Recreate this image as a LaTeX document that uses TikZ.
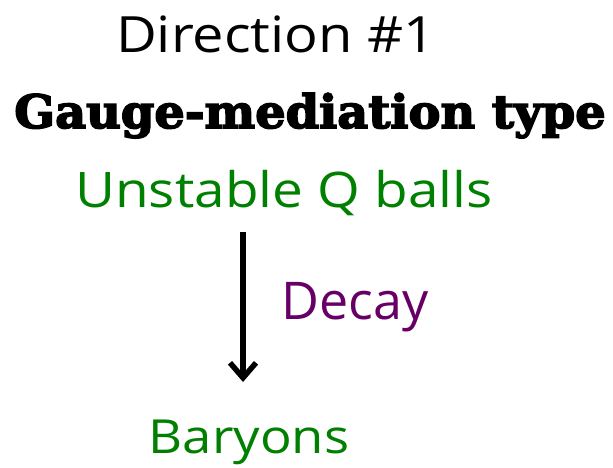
\documentclass[tikz,border=0pt]{standalone}
\usepackage{fontspec}
\setmainfont[FakeStretch=1.12]{Open Sans}
\newfontfamily\plainsans{Open Sans}
\newfontfamily\heavyfont[FakeBold=3.5,FakeStretch=1.04]{DejaVu Serif}
\usetikzlibrary{arrows.meta,positioning}
\definecolor{ballGreen}{RGB}{0,128,0}
\definecolor{decayPurple}{RGB}{102,0,102}
\tikzset{
  label text/.style={anchor=base,inner sep=0pt,font=\fontsize{49}{53}\selectfont},
  flow/.style={-{Straight Barb[length=15pt,width=26pt,line width=5.5pt]},line width=5.5pt,line cap=butt}
}
\begin{document}
\begin{tikzpicture}[x=1pt,y=-1pt]
  \useasboundingbox (0,0) rectangle (613,467);
  \node[label text,font=\fontsize{50}{54}\selectfont] (title) at (276,52) {Direction \#1};
  \node[label text,font=\heavyfont\bfseries\fontsize{46}{50}\selectfont] (mechanism) at (310,128) {Gauge-mediation type};
  \node[label text,ballGreen] (qballs) at (284,207) {Unstable Q balls};
  \node[label text,ballGreen,font=\fontsize{47}{51}\selectfont] (baryons) at (249,453) {Baryons};
  \coordinate (arrowtop) at (243,232);
  \coordinate (arrowend) at (243,382);
  \draw[flow] (arrowtop) -- (arrowend)
    node[midway,right=36pt,decayPurple,font=\plainsans\fontsize{52}{56}\selectfont,inner sep=0pt] (decay) {Decay};
\end{tikzpicture}
\end{document}
